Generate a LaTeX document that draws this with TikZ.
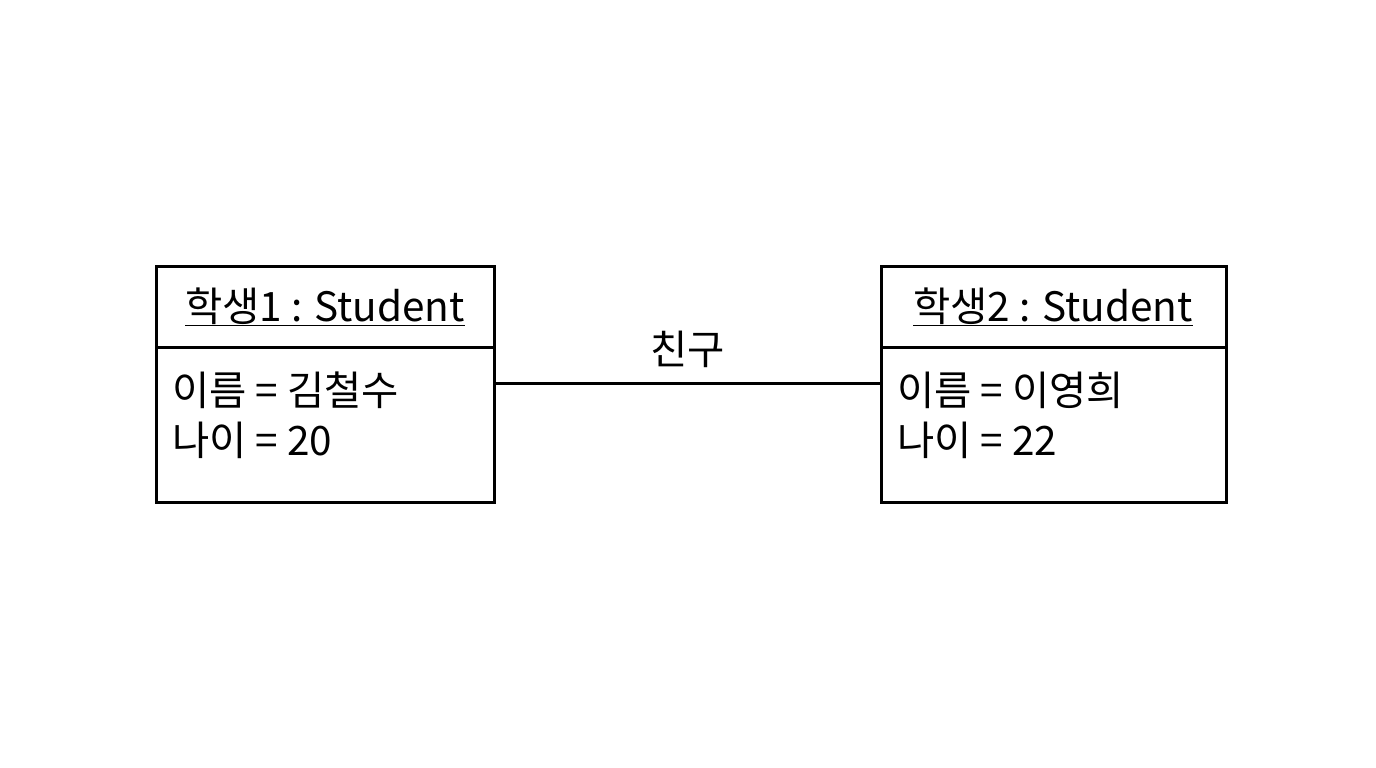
\documentclass[tikz,border=0pt]{standalone}
\usepackage{fontspec}
\setmainfont{Noto Sans CJK KR}
\begin{document}
\begin{tikzpicture}[x=1pt,y=-1pt,
  box/.style={draw=black,line width=3pt},
  txt/.style={font=\fontsize{40.5}{48}\selectfont,inner sep=0pt},
  link/.style={draw=black,line width=3pt}]
\useasboundingbox[fill=white] (0,0) rectangle (1376,768);
% object 1
\draw[box] (156,266) rectangle (494,502);
\draw[box] (156,347) -- (494,347);
\node[txt,anchor=base] (h1) at (325,321) {\underline{학생1 : Student}};
\node[txt,anchor=base west] (a1) at (172,405) {이름 = 김철수};
\node[txt,anchor=base west] (b1) at (172,455) {나이 = 20};
\coordinate (o1) at (494,383);
% object 2
\draw[box] (881,266) rectangle (1226,502);
\draw[box] (881,347) -- (1226,347);
\node[txt,anchor=base] (h2) at (1053,321) {\underline{학생2 : Student}};
\node[txt,anchor=base west] (a2) at (897,405) {이름 = 이영희};
\node[txt,anchor=base west] (b2) at (897,455) {나이 = 22};
\coordinate (o2) at (881,383);
% link
\draw[link] (o1) -- node[txt,above=14pt] (lbl) {친구} (o2);
\end{tikzpicture}
\end{document}
